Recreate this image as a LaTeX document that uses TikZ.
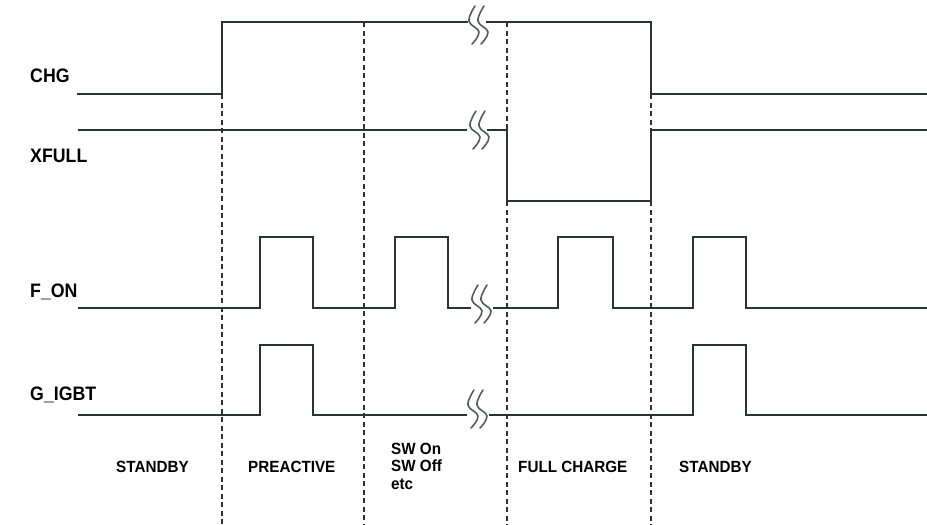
\documentclass[tikz,border=0pt]{standalone}
\usepackage{fontspec}
\setmainfont{Liberation Sans}
\newfontfamily\siglblfont[FakeStretch=0.91]{Liberation Sans}
\newfontfamily\phlblfont[FakeStretch=0.94]{Liberation Sans}
\definecolor{sigcol}{HTML}{2B3333}
\tikzset{
  brk/.pic={
    \foreach \dx in {0,9}
      \draw[brkline, xshift=\dx pt] plot[smooth, tension=0.7]
        coordinates {(1,-19) (-5,-4) (5,7) (-2,19)};
  }
}
\begin{document}
\begin{tikzpicture}[x=1pt,y=-1pt,
    sig/.style={sigcol, line width=2.2pt, line join=miter},
    phase/.style={sigcol, line width=2pt, dash pattern=on 5pt off 3.5pt},
    brkline/.style={sigcol!80, line width=1.6pt, line cap=round},
    siglbl/.style={anchor=base west, inner sep=0pt, font=\siglblfont\fontsize{19.5}{22}\selectfont\bfseries},
    phlbl/.style={anchor=base west, inner sep=0pt, align=left, font=\phlblfont\fontsize{16.2}{17.5}\selectfont\bfseries}]
  \useasboundingbox (0,0) rectangle (927,525);
  % phase boundaries
  \draw[phase] (222,94) -- (222,525);
  \draw[phase] (364,22) -- (364,525);
  \draw[phase] (507,22) -- (507,130);
  \draw[phase] (507,201) -- (507,525);
  \draw[phase] (651,94) -- (651,130);
  \draw[phase] (651,201) -- (651,525);
  % signal names
  \node[siglbl] (chg) at (30,82) {CHG};
  \node[siglbl] (xfull) at (30,162) {XFULL};
  \node[siglbl] (fon) at (30,297) {F\_ON};
  \node[siglbl] (gigbt) at (30,400) {G\_IGBT};
  % CHG
  \draw[sig] (77,94) -- (222,94) -- (222,22) -- (468,22);
  \draw[sig] (486,22) -- (651,22) -- (651,94) -- (927,94);
  \pic at (474,25) {brk};
  % XFULL
  \draw[sig] (78,130) -- (467,130);
  \draw[sig] (487,130) -- (507,130) -- (507,201) -- (651,201) -- (651,130) -- (927,130);
  \pic at (475,130) {brk};
  % F_ON
  \draw[sig] (78,308) -- (260,308) -- (260,237) -- (313,237) -- (313,308) -- (395,308)
    -- (395,237) -- (448,237) -- (448,308) -- (471,308);
  \draw[sig] (493,308) -- (558,308) -- (558,237) -- (613,237) -- (613,308) -- (693,308)
    -- (693,237) -- (746,237) -- (746,308) -- (927,308);
  \pic at (477,304) {brk};
  % G_IGBT
  \draw[sig] (78,415) -- (260,415) -- (260,345) -- (313,345) -- (313,415) -- (467,415);
  \draw[sig] (489,415) -- (693,415) -- (693,345) -- (746,345) -- (746,415) -- (927,415);
  \pic at (473,409) {brk};
  % phases
  \node[phlbl] (standbyA) at (116,472) {STANDBY};
  \node[phlbl] (preactive) at (248,472) {PREACTIVE};
  \node[phlbl] (swon) at (391,489) {SW On\\SW Off\\etc};
  \node[phlbl] (fullcharge) at (518,472) {FULL CHARGE};
  \node[phlbl] (standbyB) at (679,472) {STANDBY};
\end{tikzpicture}
\end{document}
